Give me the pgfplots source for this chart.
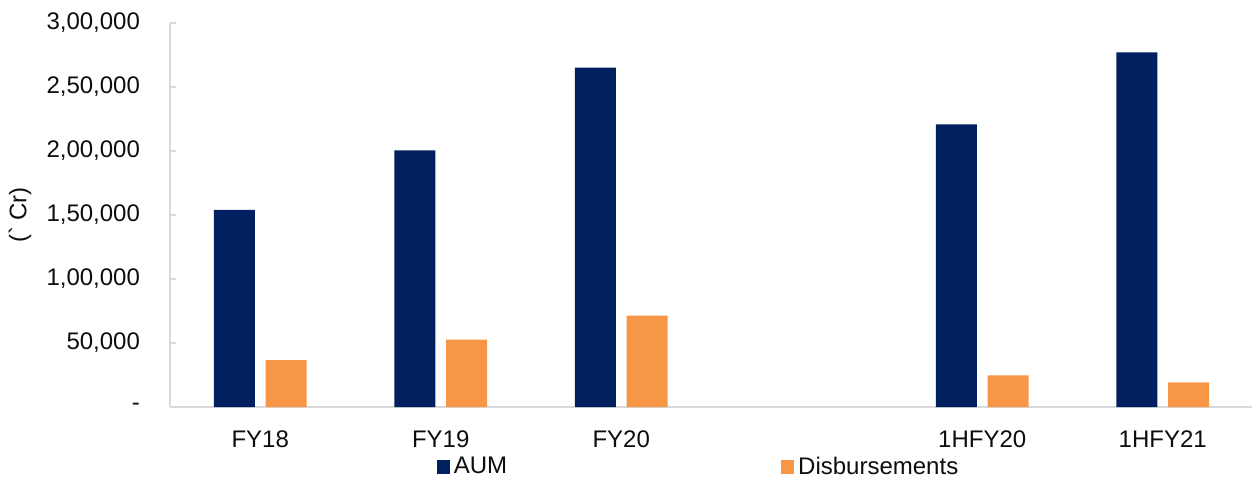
\documentclass[border=0pt]{standalone}
\usepackage{pgfplots}
\pgfplotsset{compat=1.18}
\usepackage{fontspec}
\setmainfont{Liberation Sans}
\definecolor{aum}{HTML}{002060}
\definecolor{disb}{HTML}{F79646}
\definecolor{axgray}{HTML}{D9D9D9}
\definecolor{txt}{HTML}{0D0D0D}
\begin{document}
\begin{tikzpicture}
\useasboundingbox (-85pt,-35.5pt) rectangle (541pt,203.5pt);
\begin{axis}[
  scale only axis,
  width=541.5pt, height=192pt,
  xmin=-0.5, xmax=5.5,
  ymin=0, ymax=300000,
  scaled y ticks=false,
  axis x line=bottom, axis y line=left,
  axis line style={draw=axgray, line width=0.8pt, -},
  xtick={0,1,2,4,5},
  xticklabels={FY18,FY19,FY20,1HFY20,1HFY21},
  major x tick style={draw=none},
  ytick={0,50000,100000,150000,200000,250000,300000},
  yticklabels={{-},{50,000},{1,00,000},{1,50,000},{2,00,000},{2,50,000},{3,00,000}},
  y tick style={draw=axgray, line width=0.8pt},
  tickwidth=3pt,
  tick align=inside,
  font=\fontsize{12}{14}\selectfont,
  tick label style={text=txt, font=\fontsize{12}{14}\selectfont},
  xticklabel style={yshift=-5.5pt},
  yticklabel style={xshift=-11.5pt},
  ylabel={(\textasciigrave{} Cr)},
  ylabel style={at={(axis description cs:-0.1385,0.5)}, rotate=0, anchor=center, text=txt, font=\fontsize{12}{14}\selectfont},
  ybar, bar width=20.5pt,
  legend columns=2,
  legend style={at={(axis description cs:0.489,0)}, anchor=center, yshift=-30pt,
    draw=none, fill=none, text=txt, font=\fontsize{12}{14}\selectfont,
    /tikz/every even column/.append style={column sep=135pt},
    inner sep=0pt},
  legend image code/.code={\fill[#1] (0pt,-3.3pt) rectangle (6.5pt,3.3pt);},
  clip=false,
]
\addplot[fill=aum, draw=none, bar shift=-12.9pt] coordinates {
  (0,154100) (1,200500) (2,265100) (4,220800) (5,277100)};
\addlegendentry{AUM}
\addplot[fill=disb, draw=none, bar shift=12.9pt] coordinates {
  (0,36700) (1,52600) (2,71300) (4,24700) (5,19300)};
\addlegendentry{Disbursements}
\end{axis}
\end{tikzpicture}
\end{document}
